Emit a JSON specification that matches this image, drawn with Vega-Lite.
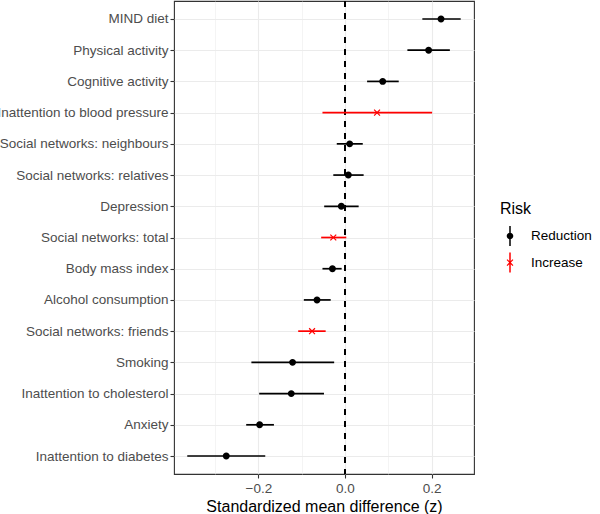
{
  "$schema": "https://vega.github.io/schema/vega-lite/v6.json",
  "autosize": "none",
  "width": 300,
  "height": 473,
  "padding": {"left": 174, "top": 1, "right": 126, "bottom": 40},
  "background": "white",
  "config": {
    "font": "Liberation Sans",
    "view": {"stroke": "#333333", "strokeWidth": 1.1}
  },
  "data": {
    "values": [
      {"name": "MIND diet", "est": 0.2216, "lo": 0.1785, "hi": 0.267, "Risk": "Reduction"},
      {"name": "Physical activity", "est": 0.193, "lo": 0.144, "hi": 0.242, "Risk": "Reduction"},
      {"name": "Cognitive activity", "est": 0.087, "lo": 0.051, "hi": 0.124, "Risk": "Reduction"},
      {"name": "Inattention to blood pressure", "est": 0.074, "lo": -0.052, "hi": 0.201, "Risk": "Increase"},
      {"name": "Social networks: neighbours", "est": 0.0108, "lo": -0.019, "hi": 0.041, "Risk": "Reduction"},
      {"name": "Social networks: relatives", "est": 0.0077, "lo": -0.027, "hi": 0.043, "Risk": "Reduction"},
      {"name": "Depression", "est": -0.0085, "lo": -0.048, "hi": 0.0315, "Risk": "Reduction"},
      {"name": "Social networks: total", "est": -0.027, "lo": -0.055, "hi": 0.003, "Risk": "Increase"},
      {"name": "Body mass index", "est": -0.029, "lo": -0.052, "hi": -0.0077, "Risk": "Reduction"},
      {"name": "Alcohol consumption", "est": -0.0646, "lo": -0.095, "hi": -0.033, "Risk": "Reduction"},
      {"name": "Social networks: friends", "est": -0.076, "lo": -0.108, "hi": -0.0446, "Risk": "Increase"},
      {"name": "Smoking", "est": -0.121, "lo": -0.216, "hi": -0.025, "Risk": "Reduction"},
      {"name": "Inattention to cholesterol", "est": -0.124, "lo": -0.198, "hi": -0.0485, "Risk": "Reduction"},
      {"name": "Anxiety", "est": -0.197, "lo": -0.228, "hi": -0.164, "Risk": "Reduction"},
      {"name": "Inattention to diabetes", "est": -0.274, "lo": -0.364, "hi": -0.184, "Risk": "Reduction"}
    ]
  },
  "encoding": {
    "y": {
      "field": "name",
      "type": "nominal",
      "sort": null,
      "scale": {"type": "point", "padding": 0.576},
      "axis": {
        "title": null,
        "domain": false,
        "grid": true,
        "gridColor": "#EBEBEB",
        "gridWidth": 1.1,
        "tickColor": "#333333",
        "tickSize": 4,
        "tickWidth": 1.1,
        "labelPadding": 2,
        "labelFontSize": 13.5,
        "labelColor": "#4D4D4D"
      }
    }
  },
  "layer": [
    {
      "mark": {"type": "rule", "strokeDash": [6, 6], "strokeWidth": 1.5, "color": "black"},
      "encoding": {
        "y": null,
        "x": {
          "datum": 0,
          "type": "quantitative",
          "scale": {"domain": [-0.3946, 0.2977], "nice": false, "zero": false},
          "axis": {
            "title": "Standardized mean difference (z)",
            "titleFontSize": 16,
            "titleFontWeight": "normal",
            "titleColor": "black",
            "titlePadding": 4,
            "domain": false,
            "values": [-0.3, -0.2, -0.1, 0, 0.1, 0.2],
            "format": ".1f",
            "labelExpr": "round(abs(datum.value * 10)) % 2 == 0 ? datum.label : ''",
            "labelFontSize": 13.5,
            "labelColor": "#4D4D4D",
            "labelPadding": 3,
            "tickColor": "#333333",
            "tickSize": 4,
            "tickWidth": 1.1,
            "tickOpacity": {"condition": {"test": "round(abs(datum.value * 10)) % 2 == 0", "value": 1}, "value": 0},
            "grid": true,
            "gridColor": "#EBEBEB",
            "gridWidth": {"condition": {"test": "round(abs(datum.value * 10)) % 2 == 0", "value": 1.1}, "value": 0.55}
          }
        }
      }
    },
    {
      "mark": {"type": "rule", "strokeWidth": 1.7},
      "encoding": {
        "x": {"field": "lo", "type": "quantitative"},
        "x2": {"field": "hi"},
        "color": {"condition": {"test": "datum.Risk == 'Increase'", "value": "#FF0000"}, "value": "black"}
      }
    },
    {
      "mark": {"type": "point", "filled": true, "opacity": 1, "size": 390},
      "encoding": {
        "x": {"field": "est", "type": "quantitative"},
        "color": {"condition": {"test": "datum.Risk == 'Increase'", "value": "#FF0000"}, "value": "black"},
        "shape": {
          "condition": {"test": "datum.Risk == 'Increase'", "value": "M0.2546,-0.3394L0.3394,-0.2546L0.0849,0L0.3394,0.2546L0.2546,0.3394L0,0.0849L-0.2546,0.3394L-0.3394,0.2546L-0.0849,0L-0.3394,-0.2546L-0.2546,-0.3394L0,-0.0849Z"},
          "value": "M0.35,0A0.35,0.35 0 1,1 -0.35,0A0.35,0.35 0 1,1 0.35,0Z"
        }
      }
    },
    {
      "transform": [{"filter": "false"}],
      "mark": {"type": "point", "filled": true, "opacity": 1, "size": 400},
      "encoding": {
        "x": {"field": "est", "type": "quantitative"},
        "color": {
          "field": "Risk",
          "type": "nominal",
          "scale": {"domain": ["Reduction", "Increase"], "range": ["black", "#FF0000"]},
          "legend": {
            "title": "Risk",
            "orient": "none",
            "legendX": 326,
            "legendY": 200,
            "titleFontSize": 16,
            "titleFontWeight": "normal",
            "titleColor": "black",
            "titlePadding": 9,
            "labelFontSize": 13.5,
            "labelColor": "black",
            "labelOffset": 11,
            "rowPadding": 6.6,
            "symbolSize": 400,
            "symbolOpacity": 1,
            "symbolStrokeWidth": 0
          }
        },
        "shape": {
          "field": "Risk",
          "type": "nominal",
          "scale": {
            "domain": ["Reduction", "Increase"],
            "range": [
              "M0.33,0A0.33,0.33 0 1,1 -0.33,0A0.33,0.33 0 1,1 0.33,0ZM-0.075,-1L0.075,-1L0.075,1L-0.075,1Z",
              "M0.2546,-0.3394L0.3394,-0.2546L0.0849,0L0.3394,0.2546L0.2546,0.3394L0,0.0849L-0.2546,0.3394L-0.3394,0.2546L-0.0849,0L-0.3394,-0.2546L-0.2546,-0.3394L0,-0.0849ZM-0.075,-1L0.075,-1L0.075,1L-0.075,1Z"
            ]
          }
        }
      }
    }
  ]
}
